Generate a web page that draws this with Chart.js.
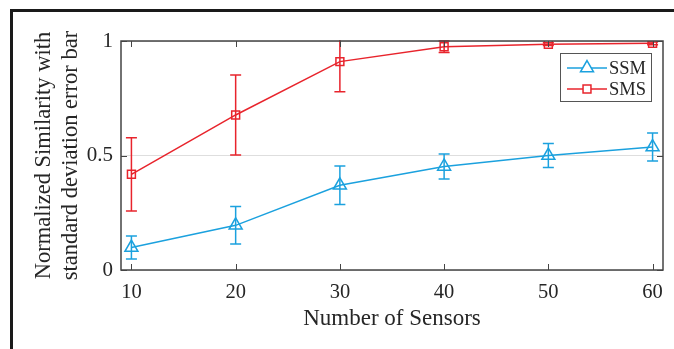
<!DOCTYPE html>
<html>
<head>
<meta charset="utf-8">
<script src="https://cdn.jsdelivr.net/npm/chart.js@4/dist/chart.umd.min.js"></script>
<style>
  html, body { margin: 0; padding: 0; background: #fff; }
  #wrap { width: 674px; height: 349px; }
</style>
</head>
<body>
<div id="wrap"><canvas id="chart" width="674" height="349"></canvas></div>
<script>
const sensors = [10, 20, 30, 40, 50, 60];
const ssmMean = [0.098, 0.195, 0.37, 0.452, 0.5, 0.537];
const ssmStd = [0.05, 0.082, 0.084, 0.055, 0.052, 0.061];
const smsMean = [0.418, 0.677, 0.91, 0.975, 0.986, 0.99];
const smsStd = [0.16, 0.175, 0.132, 0.025, 0.006, 0.006];
const xTicks = [10, 20, 30, 40, 50, 60];
const yTicks = [0, 0.5, 1];
const yTickLabels = ["0", "0.5", "1"];

const SERIF = '"Liberation Serif", "Times New Roman", serif';
const BLUE = "#1ba1de";
const RED = "#e8242c";
const AXIS = "#444";
const TXT = "#262626";

const toPoints = (xs, ys) => xs.map((x, i) => ({ x, y: ys[i] }));

// error bars, inward ticks, box, legend and the outer frame
const extras = {
  id: "extras",
  beforeDraw(chart) {
    const c = chart.ctx;
    c.save();
    c.fillStyle = "#1a1a1a";
    c.fillRect(10, 9, 3, 340);
    c.fillRect(10, 9, 664, 3);
    c.restore();
  },
  afterDatasetsDraw(chart) {
    const c = chart.ctx;
    const xs = chart.scales.x, ys = chart.scales.y;
    const a = chart.chartArea;
    c.save();
    c.beginPath();
    c.rect(a.left, a.top - 1, a.right - a.left, a.bottom - a.top + 2);
    c.clip();
    chart.data.datasets.forEach(ds => {
      c.strokeStyle = ds.borderColor;
      c.lineWidth = 1.5;
      ds.data.forEach((p, i) => {
        const px = xs.getPixelForValue(p.x);
        const hi = ys.getPixelForValue(p.y + ds.err[i]);
        const lo = ys.getPixelForValue(p.y - ds.err[i]);
        c.beginPath();
        c.moveTo(px, hi); c.lineTo(px, lo);
        c.moveTo(px - 5.5, hi); c.lineTo(px + 5.5, hi);
        c.moveTo(px - 5.5, lo); c.lineTo(px + 5.5, lo);
        c.stroke();
      });
    });
    c.restore();
  },
  afterDraw(chart) {
    const c = chart.ctx;
    const xs = chart.scales.x, ys = chart.scales.y;
    const a = chart.chartArea;
    c.save();
    c.strokeStyle = AXIS;
    c.lineWidth = 1.5;
    c.strokeRect(a.left, a.top, a.right - a.left, a.bottom - a.top);
    c.lineWidth = 1;
    const tl = 6;
    c.beginPath();
    xTicks.forEach(v => {
      const px = Math.round(xs.getPixelForValue(v)) + 0.5;
      c.moveTo(px, a.bottom); c.lineTo(px, a.bottom - tl);
      c.moveTo(px, a.top); c.lineTo(px, a.top + tl);
    });
    yTicks.forEach(v => {
      const py = Math.round(ys.getPixelForValue(v)) + 0.5;
      c.moveTo(a.left, py); c.lineTo(a.left + tl, py);
      c.moveTo(a.right, py); c.lineTo(a.right - tl, py);
    });
    c.stroke();

    // legend box
    const lx = 560, ly = 53, lw = 91, lh = 48;
    c.fillStyle = "#fff";
    c.fillRect(lx, ly, lw, lh);
    c.strokeStyle = "#555";
    c.lineWidth = 1;
    c.strokeRect(lx + 0.5, ly + 0.5, lw, lh);
    const rows = [68, 89];
    chart.data.datasets.forEach((ds, i) => {
      const y = rows[i];
      c.strokeStyle = ds.borderColor;
      c.lineWidth = 1.5;
      c.beginPath();
      c.moveTo(lx + 7, y); c.lineTo(lx + 47, y);
      c.stroke();
      c.fillStyle = "#fff";
      Chart.helpers.drawPoint(c, {
        pointStyle: ds.pointStyle, radius: ds.pointRadius, borderWidth: 1.5, rotation: 0
      }, lx + 27, y);
      c.fillStyle = TXT;
      c.font = "18.5px " + SERIF;
      c.textBaseline = "middle";
      c.textAlign = "left";
      c.fillText(ds.label, lx + 49, y + 1);
    });
    c.restore();
  }
};

new Chart(document.getElementById("chart"), {
  type: "line",
  data: {
    datasets: [
      {
        label: "SSM",
        data: toPoints(sensors, ssmMean),
        err: ssmStd,
        borderColor: BLUE,
        backgroundColor: "rgba(0,0,0,0)",
        borderWidth: 1.5,
        pointStyle: "triangle",
        pointRadius: 7.5,
        pointBorderWidth: 1.5,
        pointBorderColor: BLUE,
        pointBackgroundColor: "rgba(0,0,0,0)",
        tension: 0
      },
      {
        label: "SMS",
        data: toPoints(sensors, smsMean),
        err: smsStd,
        borderColor: RED,
        backgroundColor: "rgba(0,0,0,0)",
        borderWidth: 1.5,
        pointStyle: "rect",
        pointRadius: 5.6,
        pointBorderWidth: 1.5,
        pointBorderColor: RED,
        pointBackgroundColor: "rgba(0,0,0,0)",
        tension: 0
      }
    ]
  },
  options: {
    responsive: false,
    animation: false,
    devicePixelRatio: 1,
    layout: { padding: { top: 41, right: 11, left: 0, bottom: 0 } },
    plugins: { legend: { display: false }, tooltip: { enabled: false } },
    scales: {
      x: {
        type: "linear",
        min: 9,
        max: 61,
        afterBuildTicks: s => { s.ticks = xTicks.map(v => ({ value: v })); },
        afterFit: s => { s.height = 79; },
        grid: { display: false, drawTicks: false },
        border: { display: false },
        ticks: {
          padding: 10, maxRotation: 0, autoSkip: false,
          color: TXT, font: { family: SERIF, size: 20.5 }
        },
        title: {
          display: true, text: "Number of Sensors", color: TXT,
          font: { family: SERIF, size: 23, lineHeight: 1.1 },
          padding: { top: 0, bottom: 17 }
        }
      },
      y: {
        min: 0,
        max: 1,
        afterBuildTicks: s => { s.ticks = yTicks.map(v => ({ value: v })); },
        afterFit: s => { s.width = 121; },
        grid: { color: "#dedede", lineWidth: 1, drawTicks: false },
        border: { display: false },
        ticks: {
          padding: 8, color: TXT, font: { family: SERIF, size: 21 },
          callback: (v) => yTickLabels[yTicks.indexOf(v)]
        },
        title: {
          display: true,
          text: ["Normalized Similarity with", "standard deviation error bar"],
          color: TXT,
          font: { family: SERIF, size: 22.5, lineHeight: 1.2 },
          padding: { top: 31, bottom: 0 }
        }
      }
    }
  },
  plugins: [extras]
});
</script>
</body>
</html>
